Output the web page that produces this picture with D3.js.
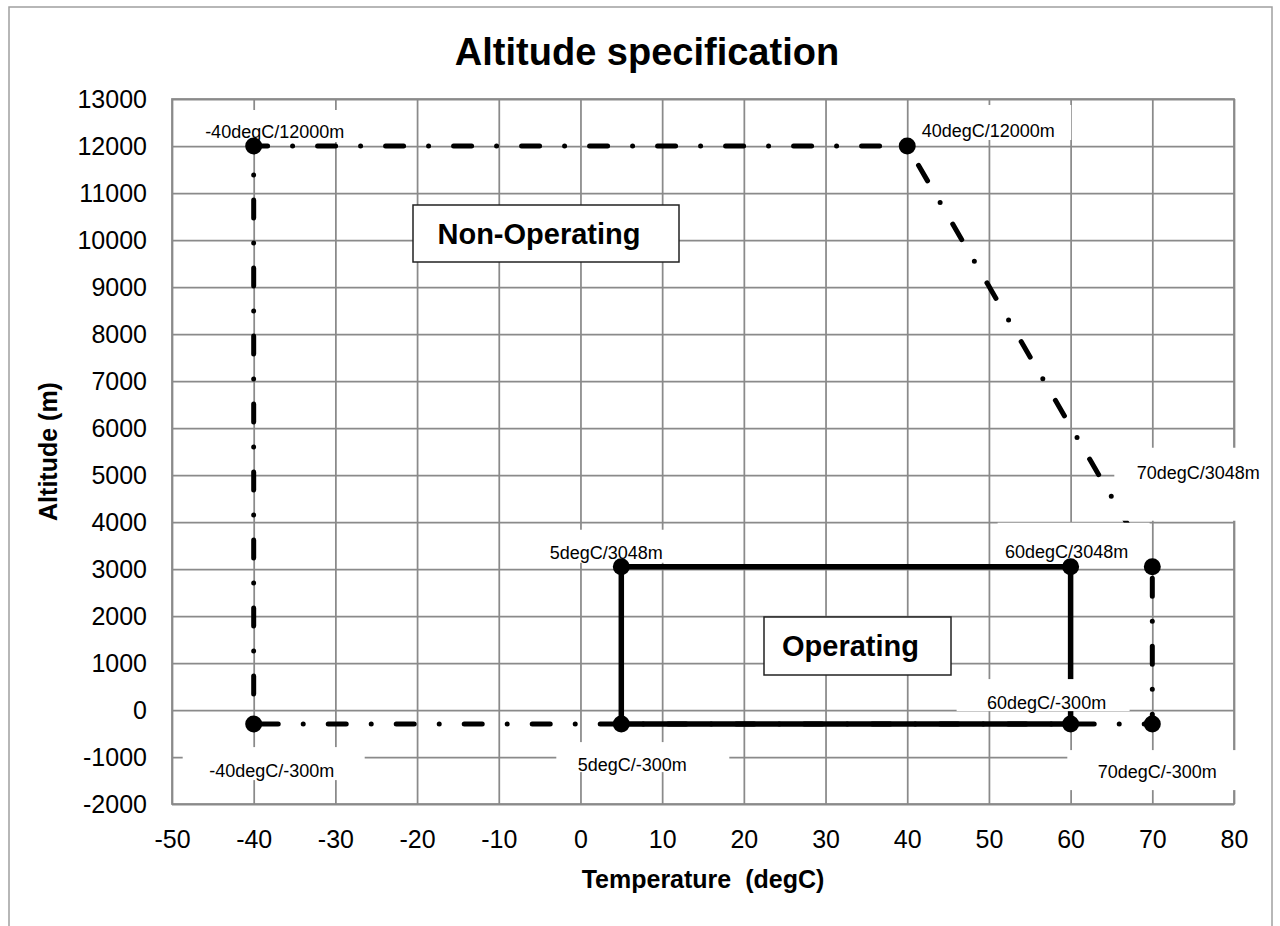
<!DOCTYPE html>
<html>
<head>
<meta charset="utf-8">
<script src="https://cdn.jsdelivr.net/npm/d3@7"></script>
<style>
  html, body { margin: 0; padding: 0; background: #fff; }
  svg { display: block; font-family: "Liberation Sans", Arial, sans-serif; }
</style>
</head>
<body>
<svg id="chart"></svg>
<script>
// chart values
let xTicks = [-50, -40, -30, -20, -10, 0, 10, 20, 30, 40, 50, 60, 70, 80];
let yTicks = [-2000, -1000, 0, 1000, 2000, 3000, 4000, 5000, 6000, 7000, 8000, 9000, 10000, 11000, 12000, 13000];

let nonOpTemp = [-40, -40, 40, 70, 70, -40];
let nonOpAlt = [-300, 12000, 12000, 3048, -300, -300];

let opTemp = [5, 5, 60, 60, 5];
let opAlt = [-300, 3048, 3048, -300, -300];

let labelTemp = [-40, 40, 70, 60, 5, 60, 5, -40, 70];
let labelAlt = [12000, 12000, 3048, 3048, 3048, -300, -300, -300, -300];
let labelText = ['-40degC/12000m', '40degC/12000m', '70degC/3048m', '60degC/3048m', '5degC/3048m',
                 '60degC/-300m', '5degC/-300m', '-40degC/-300m', '70degC/-300m'];

// label placement: text offset from point, then white box [left, top, right, bottom] around text centre
let labelLayout = [
    [21, -14, -77, -22, 77, 10],
    [81, -15, -77, -26, 83, 9],
    [46, -94, -84, -25, 66, 48],
    [-4, -15, -69, -29, 83, 11],
    [-15, -14, -67, -23, 63, 10],
    [-24, -21, -90, -24, 83, 8],
    [11, 41, -76, -23, 97, 7],
    [18, 47, -89, -24, 93, 9],
    [5, 48, -90, -22, 82, 18]
];

let width = 1280;
let height = 926;
let plot = { left: 172, right: 1234, top: 99, bottom: 804 };
let gridColor = '#8a8a8a';

let svg = d3.select('#chart')
    .attr('width', width)
    .attr('height', height);

// outer chart border
svg.append('rect')
    .attr('x', 9).attr('y', 7)
    .attr('width', 1263).attr('height', 940)
    .attr('fill', '#fff')
    .attr('stroke', '#a0a0a0')
    .attr('stroke-width', 1.5);

let xScale = d3.scaleLinear().domain([-50, 80]).range([plot.left, plot.right]);
let yScale = d3.scaleLinear().domain([-2000, 13000]).range([plot.bottom, plot.top]);

// gridlines
svg.append('g')
    .attr('transform', `translate(0, ${plot.bottom})`)
    .call(d3.axisBottom(xScale).tickValues(xTicks).tickSize(-(plot.bottom - plot.top)).tickFormat(''))
    .call(g => g.select('.domain').remove())
    .selectAll('line')
    .attr('stroke', gridColor)
    .attr('stroke-width', 1.75);

svg.append('g')
    .attr('transform', `translate(${plot.left}, 0)`)
    .call(d3.axisLeft(yScale).tickValues(yTicks).tickSize(-(plot.right - plot.left)).tickFormat(''))
    .call(g => g.select('.domain').remove())
    .selectAll('line')
    .attr('stroke', gridColor)
    .attr('stroke-width', 1.75);

svg.append('rect')
    .attr('x', plot.left).attr('y', plot.top)
    .attr('width', plot.right - plot.left)
    .attr('height', plot.bottom - plot.top)
    .attr('fill', 'none')
    .attr('stroke', gridColor)
    .attr('stroke-width', 1.75);

// tick labels (plain hyphen for negatives)
let plainFormat = d => String(d);

let xAxis = svg.append('g')
    .attr('transform', `translate(0, ${plot.bottom})`)
    .call(d3.axisBottom(xScale).tickValues(xTicks).tickSize(0).tickPadding(26).tickFormat(plainFormat));
xAxis.select('.domain').remove();
xAxis.selectAll('text')
    .attr('font-size', 25)
    .attr('font-family', '"Liberation Sans", Arial, sans-serif')
    .attr('fill', '#000');

let yAxis = svg.append('g')
    .attr('transform', `translate(${plot.left}, 0)`)
    .call(d3.axisLeft(yScale).tickValues(yTicks).tickSize(0).tickPadding(25).tickFormat(plainFormat));
yAxis.select('.domain').remove();
yAxis.selectAll('text')
    .attr('font-size', 25)
    .attr('font-family', '"Liberation Sans", Arial, sans-serif')
    .attr('fill', '#000');

// titles
svg.append('text')
    .attr('x', 647).attr('y', 52)
    .attr('dy', '0.35em')
    .attr('text-anchor', 'middle')
    .attr('font-size', 38)
    .attr('font-weight', 'bold')
    .text('Altitude specification');

svg.append('text')
    .attr('x', (plot.left + plot.right) / 2).attr('y', 879)
    .attr('dy', '0.35em')
    .attr('text-anchor', 'middle')
    .attr('font-size', 25)
    .attr('font-weight', 'bold')
    .attr('xml:space', 'preserve')
    .text('Temperature  (degC)');

svg.append('text')
    .attr('transform', `translate(48, ${(plot.top + plot.bottom) / 2}) rotate(-90)`)
    .attr('dy', '0.35em')
    .attr('text-anchor', 'middle')
    .attr('font-size', 25)
    .attr('font-weight', 'bold')
    .text('Altitude (m)');

// series lines
let nonOp = nonOpTemp.map((t, i) => [t, nonOpAlt[i]]);
let op = opTemp.map((t, i) => [t, opAlt[i]]);

let line = d3.line()
    .x(d => xScale(d[0]))
    .y(d => yScale(d[1]));

svg.append('path')
    .datum(nonOp)
    .attr('d', line)
    .attr('fill', 'none')
    .attr('stroke', '#000')
    .attr('stroke-width', 5)
    .attr('stroke-linecap', 'round')
    .attr('stroke-linejoin', 'round')
    .attr('stroke-dasharray', '18,25,0,25')
    .attr('stroke-dashoffset', -30);

svg.append('path')
    .datum(op)
    .attr('d', line)
    .attr('fill', 'none')
    .attr('stroke', '#000')
    .attr('stroke-width', 5.5)
    .attr('stroke-linejoin', 'miter');

// data labels with white boxes
let labels = labelText.map((t, i) => ({
    text: t,
    cx: xScale(labelTemp[i]) + labelLayout[i][0],
    cy: yScale(labelAlt[i]) + labelLayout[i][1],
    box: labelLayout[i].slice(2)
}));

let labelG = svg.append('g');
labelG.selectAll('rect')
    .data(labels)
    .enter()
    .append('rect')
    .attr('x', d => d.cx + d.box[0])
    .attr('y', d => d.cy + d.box[1])
    .attr('width', d => d.box[2] - d.box[0])
    .attr('height', d => d.box[3] - d.box[1])
    .attr('fill', '#fff');

labelG.selectAll('text')
    .data(labels)
    .enter()
    .append('text')
    .attr('x', d => d.cx)
    .attr('y', d => d.cy)
    .attr('dy', '0.35em')
    .attr('text-anchor', 'middle')
    .attr('font-size', 18)
    .attr('fill', '#000')
    .text(d => d.text);

// markers
let markerPts = nonOp.slice(0, 5).concat(op.slice(0, 4));
svg.append('g')
    .selectAll('circle')
    .data(markerPts)
    .enter()
    .append('circle')
    .attr('cx', d => xScale(d[0]))
    .attr('cy', d => yScale(d[1]))
    .attr('r', 8.5)
    .attr('fill', '#000');

// region boxes
let regionBoxes = [
    { text: 'Non-Operating', x: 413, y: 205, w: 266, h: 57 },
    { text: 'Operating', x: 764, y: 617, w: 187, h: 58 }
];

let regionG = svg.append('g')
    .selectAll('g')
    .data(regionBoxes)
    .enter()
    .append('g');

regionG.append('rect')
    .attr('x', d => d.x)
    .attr('y', d => d.y)
    .attr('width', d => d.w)
    .attr('height', d => d.h)
    .attr('fill', '#fff')
    .attr('stroke', '#222')
    .attr('stroke-width', 1.5);

regionG.append('text')
    .attr('x', d => d.x + d.w / 2 - 7)
    .attr('y', d => d.y + d.h / 2)
    .attr('dy', '0.35em')
    .attr('text-anchor', 'middle')
    .attr('font-size', 29)
    .attr('font-weight', 'bold')
    .text(d => d.text);
</script>
</body>
</html>
